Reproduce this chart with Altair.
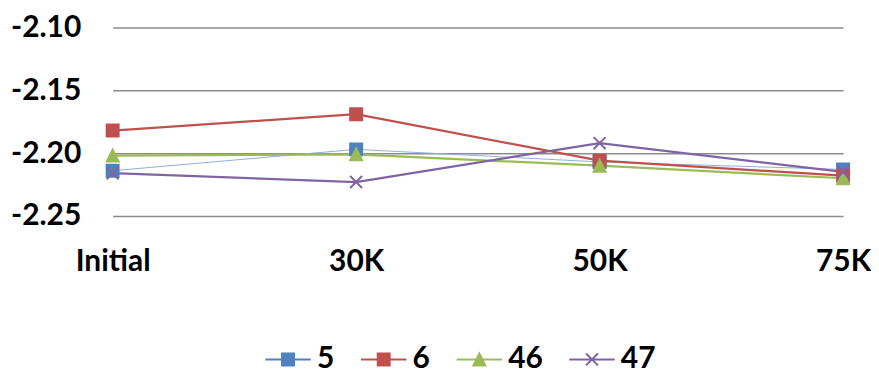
import altair as alt
import pandas as pd

categories = ["Initial", "30K", "50K", "75K"]
series_names = ["5", "6", "46", "47"]
s5 = [-2.214, -2.197, -2.207, -2.213]
s6 = [-2.182, -2.169, -2.206, -2.218]
s46 = [-2.202, -2.201, -2.210, -2.220]
s47 = [-2.216, -2.223, -2.192, -2.215]
marker_colors = ["#4F81BD", "#C0504D", "#9BBB59", "#8064A2"]
line_colors = ["#8FB0DA", "#C0504D", "#9BBB59", "#8064A2"]
line_widths = [1, 2.25, 2.25, 2.25]
y_ticks = [-2.25, -2.20, -2.15, -2.10]

rows = []
for name, vals in zip(series_names, [s5, s6, s46, s47]):
    for i, (c, v) in enumerate(zip(categories, vals)):
        rows.append({"cat": c, "idx": i, "series": name, "value": v})
df = pd.DataFrame(rows)

FONT = "Lato"
WEIGHT = "bold"
marker_paths = ["M-1,-1H1V1H-1Z", "M-1,-1H1V1H-1Z", "M0,-1L1,1H-1Z", "M-1,-1L1,1M-1,1L1,-1"]
legend_paths = ["M-3.8,0H3.8" + p for p in marker_paths]

x = alt.X(
    "cat:N",
    scale=alt.Scale(type="point", domain=categories, padding=0),
    axis=alt.Axis(title=None, labelAngle=0, labelFont=FONT, labelFontSize=30,
                  labelFontWeight=WEIGHT, labelColor="black", ticks=False,
                  domain=False, labelPadding=31, grid=False),
)
y = alt.Y(
    "value:Q",
    scale=alt.Scale(domain=[-2.25, -2.10], nice=False, zero=False),
    axis=alt.Axis(title=None, values=y_ticks,
                  labelExpr="replace(format(datum.value, '.2f'), '\u2212', '-')",
                  labelFont=FONT, labelFontSize=30, labelFontWeight=WEIGHT,
                  labelColor="black", ticks=False, domain=False, labelPadding=32,
                  gridColor="#8c8c8c", gridWidth=1.5),
)

lines = alt.Chart(df).mark_line().encode(
    x=x, y=y,
    stroke=alt.Stroke("series:N", scale=alt.Scale(domain=series_names, range=line_colors), legend=None),
    strokeWidth=alt.StrokeWidth("series:N", scale=alt.Scale(type="ordinal", domain=series_names, range=line_widths), legend=None),
    order=alt.Order("idx:Q"),
)

points = alt.Chart(df).mark_point(filled=True, size=144, strokeWidth=2, opacity=1).encode(
    x=x, y=y,
    shape=alt.Shape("series:N", scale=alt.Scale(domain=series_names, range=marker_paths), legend=None),
    fill=alt.Fill("series:N", scale=alt.Scale(domain=series_names, range=marker_colors), legend=None),
    stroke=alt.Stroke("series:N", scale=alt.Scale(domain=series_names, range=marker_colors), legend=None),
)

leg = alt.Legend(title=None, orient="none", legendX=161, legendY=318, direction="horizontal",
                 labelFont=FONT, labelFontSize=30, labelFontWeight=WEIGHT, labelColor="black",
                 symbolSize=144, symbolStrokeWidth=2, labelOffset=14, columnPadding=22)

legend_layer = alt.Chart(df).mark_point(filled=True, opacity=1).encode(
    shape=alt.Shape("series:N", scale=alt.Scale(domain=series_names, range=legend_paths), legend=leg),
    fill=alt.Fill("series:N", scale=alt.Scale(domain=series_names, range=marker_colors), legend=leg),
    stroke=alt.Stroke("series:N", scale=alt.Scale(domain=series_names, range=marker_colors), legend=leg),
).transform_filter("false")

chart = alt.layer(lines, points, legend_layer).resolve_scale(
    shape="independent", fill="independent", stroke="independent", strokeWidth="independent"
).properties(
    width=733, height=189, padding={"left": 2, "top": 4, "right": 0, "bottom": 0},
    background="white",
).configure_view(stroke=None).configure_legend(
    labelFont=FONT, labelFontSize=30, labelFontWeight=WEIGHT, labelColor="black"
)

chart.save("out.html", embed_options={"renderer": "svg", "actions": False})
